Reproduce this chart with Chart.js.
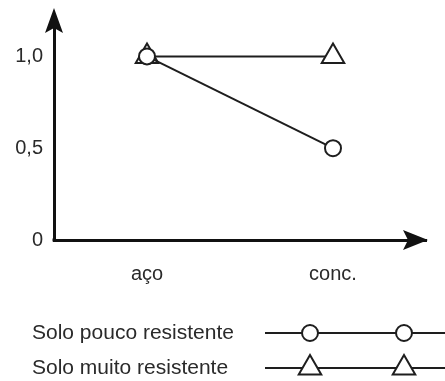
<!DOCTYPE html>
<html>
<head>
<meta charset="utf-8">
<script src="https://cdn.jsdelivr.net/npm/chart.js@4/dist/chart.umd.min.js"></script>
<style>
  html, body { margin: 0; padding: 0; background: #fff; }
  #wrap { width: 445px; height: 381px; position: relative; }
</style>
</head>
<body>
<div id="wrap"><canvas id="c" width="445" height="381"></canvas></div>
<script>
const categories = ['aço', 'conc.'];
const seriesNames = ['Solo pouco resistente', 'Solo muito resistente'];
const soloPouco = [1.0, 0.5];
const soloMuito = [1.0, 1.0];
const yTickValues = [0, 0.5, 1.0];
const yTickLabels = ['0', '0,5', '1,0'];

const INK = '#1e1e1e';
const TEXT = '#2a2a2a';
const FONT = 'Liberation Sans, Arial, Helvetica, sans-serif';

function drawMarker(ctx, style, x, y, r) {
  ctx.save();
  ctx.fillStyle = '#fff';
  ctx.strokeStyle = INK;
  ctx.lineWidth = 2;
  ctx.beginPath();
  if (style === 'circle') {
    ctx.arc(x, y, r, 0, Math.PI * 2);
  } else {
    let a = 0;
    ctx.moveTo(x + Math.sin(a) * r, y - Math.cos(a) * r);
    a += 2 * Math.PI / 3;
    ctx.lineTo(x + Math.sin(a) * r, y - Math.cos(a) * r);
    a += 2 * Math.PI / 3;
    ctx.lineTo(x + Math.sin(a) * r, y - Math.cos(a) * r);
    ctx.closePath();
  }
  ctx.fill();
  ctx.stroke();
  ctx.restore();
}

const decorations = {
  id: 'decorations',
  afterDraw(chart) {
    const ctx = chart.ctx;
    const xs = chart.scales.x, ys = chart.scales.y;
    const ax = ys.right, ay = xs.top;
    ctx.save();
    ctx.fillStyle = '#111';
    // y arrow
    ctx.beginPath();
    ctx.moveTo(ax, 8);
    ctx.lineTo(ax + 9, 33);
    ctx.lineTo(ax, 28);
    ctx.lineTo(ax - 9, 33);
    ctx.closePath();
    ctx.fill();
    // x arrow
    ctx.beginPath();
    ctx.moveTo(428, ay);
    ctx.lineTo(403, ay - 10);
    ctx.lineTo(408, ay);
    ctx.lineTo(403, ay + 10);
    ctx.closePath();
    ctx.fill();
    // corner
    ctx.fillRect(ax - 1.5, ay - 1.5, 3, 3);
    ctx.restore();

    // legend
    const rows = [333, 368];
    chart.data.datasets.forEach((ds, i) => {
      const y = rows[i];
      ctx.save();
      ctx.fillStyle = TEXT;
      ctx.font = '21px ' + FONT;
      ctx.textBaseline = 'middle';
      ctx.textAlign = 'left';
      ctx.fillText(ds.label, 32, y);
      ctx.strokeStyle = INK;
      ctx.lineWidth = 2;
      ctx.beginPath();
      ctx.moveTo(265, y);
      ctx.lineTo(445, y);
      ctx.stroke();
      ctx.restore();
      [310, 404].forEach(px => drawMarker(ctx, ds.pointStyle, px, y, ds.pointRadius));
    });
  }
};

new Chart(document.getElementById('c'), {
  type: 'line',
  data: {
    labels: categories,
    datasets: [
      {
        label: seriesNames[0],
        data: soloPouco,
        borderColor: INK,
        borderWidth: 2,
        pointStyle: 'circle',
        pointRadius: 8,
        pointBorderWidth: 2,
        pointBackgroundColor: '#fff',
        pointBorderColor: INK,
        tension: 0
      },
      {
        label: seriesNames[1],
        data: soloMuito,
        borderColor: INK,
        borderWidth: 2,
        pointStyle: 'triangle',
        pointRadius: 13,
        pointBorderWidth: 2,
        pointBackgroundColor: '#fff',
        pointBorderColor: INK,
        tension: 0
      }
    ]
  },
  options: {
    responsive: false,
    animation: false,
    events: [],
    layout: { padding: { top: 16, right: 19, bottom: 0, left: 0 } },
    plugins: { legend: { display: false }, tooltip: { enabled: false } },
    scales: {
      x: {
        type: 'category',
        offset: true,
        grid: { display: false, drawTicks: false },
        border: { display: true, color: '#111', width: 3 },
        ticks: { color: TEXT, font: { family: FONT, size: 20 }, padding: 22, maxRotation: 0 },
        afterFit(s) { s.height = 141; s.paddingLeft = 0; s.paddingRight = 0; }
      },
      y: {
        min: 0,
        max: 1.22,
        grid: { display: false, drawTicks: false },
        border: { display: true, color: '#111', width: 3 },
        afterBuildTicks(s) { s.ticks = yTickValues.map(v => ({ value: v })); },
        ticks: {
          color: TEXT,
          font: { family: FONT, size: 20 },
          padding: 11,
          callback(v) { const i = yTickValues.indexOf(v); return i >= 0 ? yTickLabels[i] : ''; }
        },
        afterFit(s) { s.width = 54; s.paddingTop = 0; s.paddingBottom = 0; }
      }
    }
  },
  plugins: [decorations]
});
</script>
</body>
</html>
